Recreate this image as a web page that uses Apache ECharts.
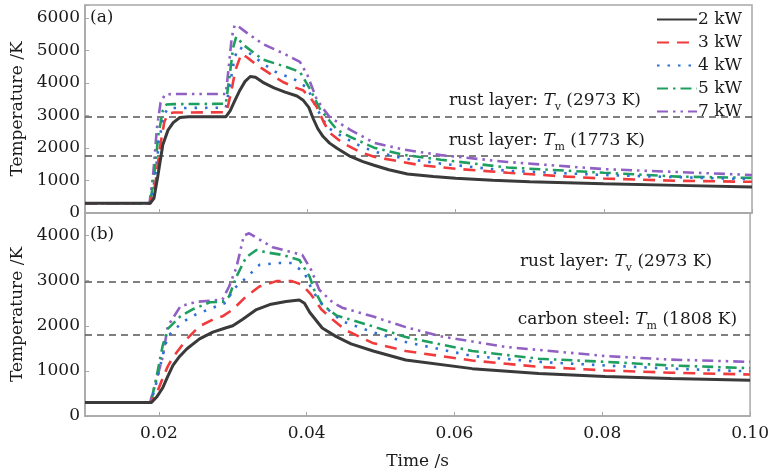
<!DOCTYPE html>
<html><head><meta charset="utf-8">
<script src="https://cdn.jsdelivr.net/npm/echarts@6/dist/echarts.min.js"></script>
<style>html,body{margin:0;padding:0;background:#fff}#c{width:772px;height:471px}</style>
</head><body><div id="c"></div>
<script>
const seriesNames = ['2 kW', '3 kW', '4 kW', '5 kW', '7 kW'];
const panelLabels = ['(a)', '(b)'];
const xLimits = [0.01, 0.10];
const yLimitsA = [0, 6400];
const yLimitsB = [0, 4500];
const refLinesA = [2973, 1773];
const refLinesB = [2973, 1808];

// Panel (a): [time s, temperature K]
const a2kW = [[0.010,300],[0.0188,300],[0.0193,450],[0.0198,1100],[0.0205,2100],[0.0212,2550],[0.0219,2780],[0.0228,2940],[0.0240,2960],[0.0290,2960],[0.0296,3150],[0.0302,3450],[0.0309,3780],[0.0316,4050],[0.0323,4200],[0.0330,4180],[0.0340,4020],[0.0355,3850],[0.0370,3720],[0.0386,3600],[0.0394,3480],[0.0402,3250],[0.0408,2900],[0.0414,2600],[0.0421,2360],[0.0430,2150],[0.0440,1990],[0.0458,1740],[0.0475,1580],[0.0490,1470],[0.0510,1330],[0.0535,1200],[0.0570,1120],[0.0600,1070],[0.0650,1010],[0.0700,965],[0.0800,900],[0.0900,850],[0.1000,800]];
const a3kW = [[0.010,300],[0.0188,300],[0.0195,900],[0.0201,2000],[0.0207,2800],[0.0212,3060],[0.0220,3090],[0.0291,3100],[0.0297,3700],[0.0303,4400],[0.0311,4900],[0.0318,4800],[0.0332,4550],[0.0350,4280],[0.0367,4030],[0.0385,3850],[0.0394,3780],[0.0404,3550],[0.0413,3250],[0.0422,2800],[0.0430,2470],[0.0448,2150],[0.0471,1880],[0.0490,1730],[0.0550,1480],[0.0600,1360],[0.0670,1240],[0.0750,1120],[0.0800,1060],[0.0900,990],[0.1000,960]];
const a4kW = [[0.010,300],[0.0188,300],[0.0194,1000],[0.0200,2200],[0.0206,3000],[0.0212,3220],[0.0220,3230],[0.0290,3240],[0.0296,4000],[0.0302,4800],[0.0308,5100],[0.0320,4950],[0.0340,4600],[0.0360,4300],[0.0380,4150],[0.0400,3850],[0.0413,3200],[0.0428,2620],[0.0448,2340],[0.0470,2080],[0.0490,1890],[0.0530,1680],[0.0580,1520],[0.0670,1300],[0.0800,1170],[0.0900,1100],[0.1000,1040]];
const a5kW = [[0.010,300],[0.0188,300],[0.0193,1100],[0.0199,2400],[0.0205,3150],[0.0210,3340],[0.0220,3350],[0.0290,3360],[0.0295,4200],[0.0300,5100],[0.0304,5420],[0.0315,5150],[0.0340,4720],[0.0372,4490],[0.0390,4340],[0.0404,3800],[0.0417,3200],[0.0440,2560],[0.0458,2340],[0.0490,2010],[0.0530,1790],[0.0580,1640],[0.0670,1400],[0.0800,1240],[0.0900,1120],[0.1000,1080]];
const a7kW = [[0.010,300],[0.0187,300],[0.0192,1200],[0.0197,2600],[0.0202,3400],[0.0208,3650],[0.0220,3660],[0.0290,3660],[0.0294,4500],[0.0298,5400],[0.0302,5780],[0.0306,5760],[0.0318,5550],[0.0340,5200],[0.0367,4920],[0.0390,4650],[0.0400,4250],[0.0413,3480],[0.0430,2950],[0.0458,2560],[0.0490,2160],[0.0530,1950],[0.0580,1780],[0.0670,1570],[0.0800,1350],[0.0900,1260],[0.1000,1170]];

// Panel (b): [time s, temperature K]
const b2kW = [[0.010,300],[0.0190,300],[0.0197,420],[0.0205,620],[0.0212,880],[0.0219,1120],[0.0228,1320],[0.0238,1490],[0.0255,1710],[0.0273,1860],[0.0290,1950],[0.0300,2000],[0.0313,2140],[0.0332,2360],[0.0350,2470],[0.0372,2540],[0.0390,2570],[0.0397,2500],[0.0404,2300],[0.0421,1950],[0.0440,1760],[0.0460,1600],[0.0490,1440],[0.0534,1240],[0.0624,1050],[0.0714,940],[0.0804,875],[0.0893,830],[0.1000,790]];
const b3kW = [[0.010,300],[0.0189,300],[0.0197,500],[0.0205,830],[0.0212,1100],[0.0219,1300],[0.0238,1710],[0.0255,1990],[0.0273,2140],[0.0286,2210],[0.0300,2360],[0.0318,2650],[0.0336,2870],[0.0359,2990],[0.0380,2990],[0.0394,2910],[0.0406,2690],[0.0420,2360],[0.0435,2140],[0.0453,1900],[0.0489,1620],[0.0534,1440],[0.0624,1230],[0.0714,1090],[0.0804,1010],[0.0893,960],[0.1000,920]];
const b4kW = [[0.010,300],[0.0189,300],[0.0196,700],[0.0205,1330],[0.0212,1770],[0.0232,2080],[0.0250,2250],[0.0273,2400],[0.0292,2520],[0.0300,2800],[0.0318,3060],[0.0336,3350],[0.0359,3390],[0.0380,3390],[0.0397,3170],[0.0406,2840],[0.0417,2540],[0.0433,2300],[0.0448,2100],[0.0489,1860],[0.0534,1640],[0.0624,1330],[0.0714,1200],[0.0804,1120],[0.0893,1050],[0.1000,990]];
const b5kW = [[0.010,300],[0.0189,300],[0.0196,800],[0.0205,1550],[0.0212,1930],[0.0229,2210],[0.0245,2360],[0.0269,2520],[0.0286,2530],[0.0295,2650],[0.0305,3090],[0.0318,3520],[0.0332,3680],[0.0345,3630],[0.0367,3570],[0.0390,3460],[0.0404,3090],[0.0410,2800],[0.0421,2470],[0.0440,2230],[0.0489,1990],[0.0534,1750],[0.0624,1440],[0.0714,1270],[0.0804,1200],[0.0893,1120],[0.1000,1060]];
const b7kW = [[0.010,300],[0.0188,300],[0.0195,700],[0.0200,1000],[0.0205,1300],[0.0212,1990],[0.0229,2430],[0.0250,2530],[0.0286,2580],[0.0295,2870],[0.0305,3300],[0.0315,4000],[0.0322,4050],[0.0354,3740],[0.0394,3570],[0.0406,3240],[0.0417,2800],[0.0435,2520],[0.0448,2400],[0.0489,2210],[0.0534,1970],[0.0580,1770],[0.0670,1530],[0.0804,1330],[0.0893,1250],[0.1000,1200]];

const panelA = [a2kW, a3kW, a4kW, a5kW, a7kW];
const panelB = [b2kW, b3kW, b4kW, b5kW, b7kW];

const FONT = 'DejaVu Serif';
const TXT = '#1a1a1a';
const AX = '#a8a8a8';
const styles = [
  {color: '#3a3a3a', width: 3, type: 'solid'},
  {color: '#f03a3c', width: 2.6, type: [12, 8]},
  {color: '#2f6fd6', width: 2.6, type: [2.5, 8]},
  {color: '#1f9f5f', width: 2.6, type: [11, 5, 2.5, 5]},
  {color: '#9060c4', width: 2.6, type: [11, 5, 2.5, 5, 2.5, 5]}
];

const rich = {
  n: {fontFamily: FONT, fontSize: 17, color: TXT, lineHeight: 24},
  it: {fontFamily: FONT, fontSize: 17, fontStyle: 'italic', color: TXT, lineHeight: 24},
  sub: {fontFamily: FONT, fontSize: 11, color: TXT, lineHeight: 11, verticalAlign: 'top', padding: [13, 0, 0, 0]}
};
function refLabel(prefix, sub, val, padRight, dist) {
  return {
    show: true, position: 'insideEndTop', distance: dist,
    padding: [0, padRight, 0, 0],
    formatter: '{n|' + prefix + ' }{it|T}{sub|' + sub + '}{n| (' + val + ' K)}',
    rich: rich
  };
}
function markLines(vals, labels) {
  return {
    silent: true, symbol: ['none', 'none'],
    lineStyle: {color: '#555', width: 1.6, type: [7, 5]},
    data: vals.map((v, i) => ({yAxis: v, label: labels[i]}))
  };
}

const xFmt = v => (Math.abs(v * 50 - Math.round(v * 50)) < 1e-6 ? v.toFixed(2) : '');
const yFmt = v => (v % 1000 === 0 ? String(v) : '');

function xAxis(idx, showLabels) {
  return {
    type: 'value', gridIndex: idx, min: xLimits[0], max: xLimits[1], splitNumber: 5,
    axisLine: {show: true, lineStyle: {color: AX, width: 1.5}},
    axisTick: {show: true, inside: true, length: 4, lineStyle: {color: AX}},
    splitLine: {show: false},
    axisLabel: {show: showLabels, formatter: xFmt, fontFamily: FONT, fontSize: 17, color: TXT, margin: 9, showMinLabel: false},
    name: showLabels ? 'Time /s' : '', nameLocation: 'middle', nameGap: 37,
    nameTextStyle: {fontFamily: FONT, fontSize: 17, color: TXT}
  };
}
function yAxis(idx, lim) {
  return {
    type: 'value', gridIndex: idx, min: lim[0], max: lim[1], interval: 1000,
    axisLine: {show: true, lineStyle: {color: AX, width: 1.5}},
    axisTick: {show: true, inside: true, length: 4, lineStyle: {color: AX}},
    splitLine: {show: false},
    axisLabel: {formatter: yFmt, fontFamily: FONT, fontSize: 17, color: TXT, margin: 5},
    name: 'Temperature /K', nameLocation: 'middle', nameGap: 58,
    nameTextStyle: {fontFamily: FONT, fontSize: 17, color: TXT}
  };
}

const series = [];
seriesNames.forEach((name, i) => {
  const s = styles[i];
  series.push({
    name: name, type: 'line', xAxisIndex: 0, yAxisIndex: 0, data: panelA[i],
    showSymbol: false, symbol: 'none', lineStyle: {color: s.color, width: s.width, type: s.type},
    itemStyle: {color: s.color}, z: 10 - i,
    markLine: i === 0 ? markLines(refLinesA, [
      refLabel('rust layer:', 'v', refLinesA[0], 107, 4),
      refLabel('rust layer:', 'm', refLinesA[1], 104, 3)
    ]) : undefined
  });
});
seriesNames.forEach((name, i) => {
  const s = styles[i];
  series.push({
    name: name, type: 'line', xAxisIndex: 1, yAxisIndex: 1, data: panelB[i],
    showSymbol: false, symbol: 'none', lineStyle: {color: s.color, width: s.width, type: s.type},
    itemStyle: {color: s.color}, z: 10 - i,
    markLine: i === 0 ? markLines(refLinesB, [
      refLabel('rust layer:', 'v', refLinesB[0], 30, 8),
      refLabel('carbon steel:', 'm', refLinesB[1], 10, 3)
    ]) : undefined
  });
});

const chart = echarts.init(document.getElementById('c'), null, {renderer: 'canvas'});
chart.setOption({
  animation: false,
  backgroundColor: '#fff',
  grid: [
    {left: 85, top: 5, right: 20, height: 208, show: true, borderColor: AX, borderWidth: 1.5},
    {left: 85, top: 213, right: 20, bottom: 53, show: true, borderColor: AX, borderWidth: 1.5}
  ],
  xAxis: [xAxis(0, false), xAxis(1, true)],
  yAxis: [yAxis(0, yLimitsA), yAxis(1, yLimitsB)],
  legend: {
    data: seriesNames, orient: 'vertical', right: 25, top: 6,
    itemWidth: 40, itemHeight: 14, itemGap: 6, align: 'left',
    itemStyle: {opacity: 0},
    textStyle: {fontFamily: FONT, fontSize: 17, color: TXT, padding: [0, 0, 0, -4]}
  },
  graphic: [
    {type: 'text', left: 90, top: 9, style: {text: panelLabels[0], font: '17px "DejaVu Serif"', fill: TXT}},
    {type: 'text', left: 90, top: 226, style: {text: panelLabels[1], font: '17px "DejaVu Serif"', fill: TXT}}
  ],
  series: series
});
</script>
</body></html>
